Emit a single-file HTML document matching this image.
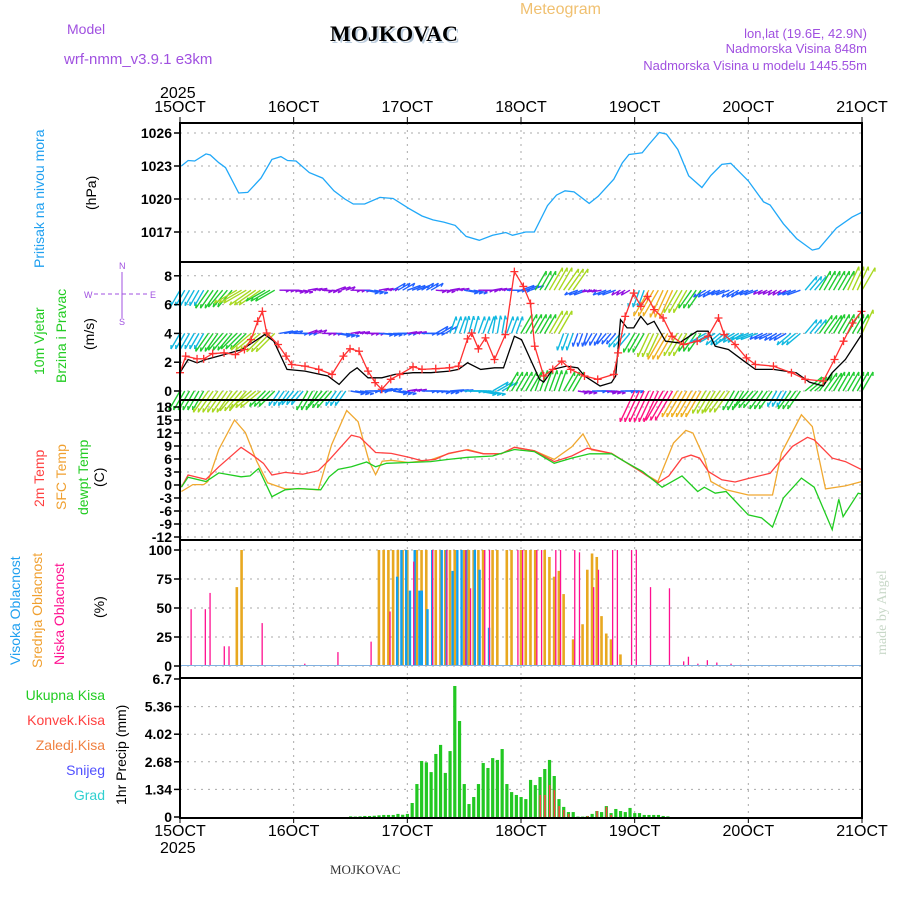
<!DOCTYPE html>
<html><head><meta charset="utf-8"><style>
body{margin:0;background:#fff}
svg{display:block;font-family:"Liberation Sans",sans-serif}
</style></head><body>
<svg id="c" width="900" height="900" viewBox="0 0 900 900">
<text x="520" y="14" font-size="16" fill="#f0c070">Meteogram</text>
<text x="332" y="43" font-size="22" font-weight="bold" font-family="Liberation Serif, serif" fill="#bcd">MOJKOVAC</text>
<text x="330" y="41" font-size="22" font-weight="bold" font-family="Liberation Serif, serif" fill="#000">MOJKOVAC</text>
<text x="67" y="34" font-size="14" fill="#a050e0">Model</text>
<text x="64" y="64" font-size="15" fill="#a050e0">wrf-nmm_v3.9.1 e3km</text>
<text x="867" y="38" font-size="13" fill="#a050e0" text-anchor="end">lon,lat (19.6E, 42.9N)</text>
<text x="867" y="53" font-size="13" fill="#a050e0" text-anchor="end">Nadmorska Visina 848m</text>
<text x="867" y="70" font-size="13" fill="#a050e0" text-anchor="end">Nadmorska Visina u modelu 1445.55m</text>
<text x="160" y="98" font-size="16" fill="#000">2025</text>
<text x="160" y="853" font-size="16" fill="#000">2025</text>
<text x="330" y="874" font-size="13" font-family="Liberation Serif, serif" fill="#333">MOJKOVAC</text>
<text transform="translate(886,655) rotate(-90)" font-size="14" font-family="Liberation Serif, serif" fill="#c8d8c8">made by Angel</text>
<text transform="translate(44,268) rotate(-90)" font-size="14" fill="#20a0f0">Pritisak na nivou mora</text>
<text transform="translate(96,210) rotate(-90)" font-size="14" fill="#000">(hPa)</text>
<text transform="translate(44,375) rotate(-90)" font-size="14" fill="#22cc22">10m Vjetar</text>
<text transform="translate(66,383) rotate(-90)" font-size="14" fill="#22cc22">Brzina i Pravac</text>
<text transform="translate(94,350) rotate(-90)" font-size="14" fill="#000">(m/s)</text>
<g fill="#a050e0" font-size="9">
<text x="119" y="269">N</text><text x="119" y="325">S</text><text x="84" y="298">W</text><text x="150" y="298">E</text>
<line x1="122" y1="272" x2="122" y2="318" stroke="#a050e0"/><line x1="94" y1="294" x2="148" y2="294" stroke="#a050e0" stroke-dasharray="4,3"/>
</g>
<text transform="translate(44,507) rotate(-90)" font-size="14" fill="#ff4040">2m Temp</text>
<text transform="translate(66,510) rotate(-90)" font-size="14" fill="#f0a030">SFC Temp</text>
<text transform="translate(88,515) rotate(-90)" font-size="14" fill="#22cc22">dewpt Temp</text>
<text transform="translate(104,487) rotate(-90)" font-size="14" fill="#000">(C)</text>
<text transform="translate(20,665) rotate(-90)" font-size="14" fill="#20a0f0">Visoka Oblacnost</text>
<text transform="translate(42,668) rotate(-90)" font-size="14" fill="#f0a030">Srednja Oblacnost</text>
<text transform="translate(64,665) rotate(-90)" font-size="14" fill="#ff1090">Niska Oblacnost</text>
<text transform="translate(104,618) rotate(-90)" font-size="14" fill="#000">(%)</text>
<g font-size="14" text-anchor="end">
<text x="105" y="700" fill="#22cc22">Ukupna  Kisa</text>
<text x="105" y="725" fill="#ff4040">Konvek.Kisa</text>
<text x="105" y="750" fill="#f08040">Zaledj.Kisa</text>
<text x="105" y="775" fill="#5050ff">Snijeg</text>
<text x="105" y="800" fill="#30d0d0">Grad</text>
</g>
<text transform="translate(126,805) rotate(-90)" font-size="14" fill="#000">1hr Precip (mm)</text>
<g id="grid"></g><g id="marks"></g><g id="axes"></g>
</svg>
<script>
const dayLabels=["15OCT","16OCT","17OCT","18OCT","19OCT","20OCT","21OCT"];
const presTicks=[1026,1023,1020,1017];
const windTicks=[0,2,4,6,8];
const tempTicks=[18,15,12,9,6,3,0,-3,-6,-9,-12];
const cloudTicks=[0,25,50,75,100];
const precTicks=[0,1.34,2.68,4.02,5.36,6.7];
const presHours=[0.3,1.7,3.1,5.5,6.4,8.2,9.6,12.4,14.3,17.1,19.4,21.3,22.7,24.5,27.3,30.1,32.5,34.8,36.6,39,42.2,45,48.3,51.1,53.4,55.7,58.1,60.4,63.2,66,68.8,70.2,73,74.8,77.6,79.5,81.3,83.2,86.4,88.3,91.6,93.4,94.8,97.6,99,101.2,102.7,105.1,107.4,110.2,112.1,114.4,116.3,120,123.2,124.6,127.4,130.2,133.5,134.9,138.6,141.9,144];
const presVals=[1023,1023.5,1023.45,1024.1,1024,1023.3,1022.85,1020.55,1020.6,1021.9,1023.6,1023.85,1023.5,1023.45,1022.4,1021.9,1020.75,1020,1019.55,1019.55,1020.15,1020.05,1019.15,1018.45,1018.1,1017.9,1017.6,1016.6,1016.25,1016.7,1016.95,1016.7,1017,1017,1019.4,1020.35,1020.75,1020.65,1019.6,1020.25,1021.8,1023.3,1024.05,1024.2,1024.95,1026.05,1025.9,1024.5,1022.1,1021.05,1022.15,1023.15,1023.25,1021.65,1019.75,1019.45,1017.75,1016.4,1015.35,1015.5,1017.35,1018.35,1018.8];
const gustHours=[0,1.2,3.6,5,6.9,9.3,11.7,13.6,15,16.4,17.4,18.3,20.7,22.4,23.6,26.4,29.3,32.1,34.5,35.9,37.8,39.7,41.2,42.6,44.5,46.4,49.2,51.1,54,56.9,58.8,60.7,61.6,63,64.5,66.4,68.7,70.6,72.5,74,74.9,76.8,78.7,80.6,82.5,85.4,88.2,91.6,92.5,94,95.8,97.3,98.7,100.1,102,103.9,106.3,109.2,111.5,113.7,114.9,117.2,119.6,121.5,125.3,129.1,132,135.8,138.2,140.1,142,143.9];
const gustVals=[1.27,2.42,2.23,2.23,2.6,2.65,2.53,2.88,3.57,4.84,5.53,4.03,3.23,2.42,1.84,1.73,1.5,1.15,2.42,2.93,2.76,1.38,0.58,0.12,0.81,1.15,1.68,1.5,1.55,1.61,1.73,3.62,4.03,2.93,3.69,2.19,3.92,8.29,7.26,6.08,3.11,1.04,1.5,2.07,1.5,1.04,0.81,1.15,2.65,5.18,6.8,5.88,6.57,5.65,5.07,3.8,3.23,3.46,3.8,5.07,3.92,3.23,2.3,1.84,1.73,1.27,0.81,0.69,2.19,3.46,4.72,5.53];
const speedHours=[0,1.7,3.6,5.5,9.3,13.1,17.9,19.8,22.6,26.4,31.2,33.6,35.9,37.4,39.7,42.6,45.4,49.2,53,56.9,58.8,60.7,63.5,66.4,68.3,70.6,72.1,74,75.9,76.8,78.7,81.6,84,85.4,88.7,91.1,92,93,94.4,95.8,97.3,98.7,100.1,102.5,105.4,109.2,111.5,113,115.8,119.1,121.5,125.3,130.1,132.9,135.8,137.7,140.5,144];
const speedVals=[1.27,2.19,1.96,2.19,2.53,2.88,3.92,3.46,1.5,1.38,1.04,0.46,1.27,1.61,0.92,0.92,1.15,1.27,1.27,1.38,1.5,1.96,1.5,1.61,1.61,3.8,3.57,2.19,0.81,0.62,1.5,1.73,1.61,1.04,0.35,0.58,1.04,4.95,4.38,4.38,5.18,4.61,4.84,3.46,3.34,4.15,4.15,3.11,2.88,2.07,1.5,1.5,1.27,0.62,0.35,1.27,2.19,3.96];
const windRowLevels=[7,4,0];
const windStepHours=3;
const windDirTop=[210,210,215,220,240,235,240,90,100,80,95,70,90,100,80,60,70,60,95,80,100,90,80,90,70,30,30,35,250,260,250,240,200,210,205,210,215,240,250,240,250,245,240,250,40,30,30,25,30];
const windColTop=[2,2,3,3,4,4,3,0,0,0,0,0,0,1,0,1,1,1,0,0,1,0,0,1,1,3,4,4,1,0,1,0,2,5,5,4,3,1,1,1,1,0,0,1,2,3,3,4,4];
const windDirMid=[210,210,215,220,225,230,225,80,90,70,90,100,80,90,95,90,80,90,60,20,15,20,10,20,30,30,30,200,200,210,220,220,210,205,210,210,215,240,230,240,250,245,240,230,40,35,30,30,25];
const windColMid=[2,2,3,3,3,4,4,1,1,0,0,1,0,0,1,1,0,1,1,2,2,2,2,2,3,3,4,2,1,1,1,2,3,4,5,4,3,2,2,2,2,1,1,2,2,3,3,3,4];
const windDirBot=[210,210,215,215,220,230,225,215,220,210,220,215,100,90,80,100,80,90,95,85,90,100,60,30,30,20,20,30,100,90,100,90,205,205,210,210,210,210,215,210,220,215,210,215,50,35,30,30,30];
const windColBot=[3,3,4,4,4,4,3,2,2,3,3,2,1,1,1,1,0,1,1,1,2,2,2,3,3,3,3,3,0,1,0,1,6,6,6,5,5,4,4,3,3,3,2,3,3,3,3,3,3];
const t2Hours=[0.3,1.7,5.5,8.2,12.9,15.2,17.6,19.4,22.2,25.9,29.2,31.5,36.2,38,41.3,44.6,48.3,51.1,53.9,56.7,60.4,64.1,67.8,70.6,74.8,79,82.7,86,91.1,93.9,96.7,100.9,103.2,106,107.9,109.7,111.6,114.4,117.2,120,124.6,129.3,132.5,133.9,137.7,140.5,144];
const t2Vals=[-0.5,2.3,1.3,4.2,8.7,7,5,2.3,2.9,2.5,3.3,5.8,11.5,11,7.5,7.3,6.4,5.6,5.9,7.3,8.1,7.2,7.2,8.7,7.9,5.4,6.7,8.5,7.3,5.4,3.5,0.5,2.1,6.2,6.9,6.2,3.1,1.2,0.7,1.5,2.7,8.9,11,10.4,6.2,5.4,3.5];
const sfcHours=[0.3,2.7,5,5.9,8.2,11.5,13.8,16.2,18.5,22.2,25.9,29.2,32,35.2,37.6,39.9,41.3,42.7,44.6,48.3,52.9,56.7,60.8,64.1,67.8,70.6,74.8,79,82.7,85.1,86.9,91.1,93.9,96.7,100.9,104.2,106.8,108.3,110.7,112.1,115.3,120,122.3,125.1,127,131.2,133.5,136.3,140.5,144];
const sfcVals=[-1.5,0.1,0.1,0.8,8.2,15,12.1,5.5,0.5,-0.9,-0.9,-1.1,9.3,17.2,14.6,5.5,2.4,5.5,5.7,5.2,5.8,7.2,8.2,7.2,7.2,8.7,7.9,5.9,8.8,11.8,8.1,7.3,5.4,3.5,0.8,9.7,12.6,12,6.2,0.8,-1.1,-2.3,-2.3,-2.3,7.4,16.2,13.5,-0.9,-0.2,0.8];
const dewHours=[0.3,1.7,5.5,8.2,12.9,14.8,16.6,19.4,22.2,25,29.7,31.5,33.4,36.2,39.4,41.3,43.6,48.3,52.9,56.7,60.8,66,70.6,74.8,79,82.7,86.5,91.1,93.9,97.7,101.8,106,109.3,110.7,113,115.3,120,122.8,125.1,127.4,131.2,133.9,137.7,139.1,140,143.2,144];
const dewVals=[-0.5,1.8,0.8,2.8,1.9,2.1,3.8,-2.7,-1.1,-0.8,-1.1,1.9,3.6,4.2,5.3,4.2,5,5.2,5.4,5.9,6.4,6.7,8.2,7.7,5,6.2,7.2,7.2,5.4,3.1,-0.5,2.1,-1.5,-0.5,-1.9,-1.5,-6.9,-7.6,-9.7,-3,1.6,-0.5,-10.3,-3.3,-7.3,-1.9,-2.1];
const lowCloudHours=[2,5,6,9,10,17,26,33,40,44,49,53,56,60,61,64,65,71,72,75,76,79,80,83,84,87,88,91,92,95,96,99,103,106,107,109,111,113,116,118];
const lowCloudVals=[49,49,63,17,17,37,2,12,21,47,90,100,100,100,67,100,100,100,100,100,100,100,100,100,98,68,83,100,100,100,100,68,67,4,8,2,5,3,2,1];
const midCloudHours=[12,13,42,43,44,45,46,47,48,50,51,52,54,55,56,57,58,60,61,62,63,64,66,67,69,70,72,73,74,75,77,78,79,80,81,83,85,86,87,88,89,90,91,93];
const midCloudVals=[68,100,100,100,100,100,100,100,100,100,100,100,100,100,100,100,100,100,100,100,100,100,100,100,100,100,100,100,100,100,100,94,77,82,62,23,36,83,97,94,43,28,23,10];
const highCloudHours=[45.6,46.5,47.5,48.3,49.3,50.3,50.8,52,53,55,56,57.3,58.3,59.2,60.2,62,63,65];
const highCloudVals=[77,100,100,65,100,65,65,49,100,100,100,82,100,100,100,100,83,33];
const precipStart=36;
const precipTotal=[0.03,0.02,0.03,0.05,0.05,0.06,0.08,0.1,0.1,0.1,0.15,0.11,0.15,0.68,1.6,2.72,2.65,2.18,3.06,3.5,2.14,3.2,6.36,4.66,1.6,0.63,0.97,1.6,2.62,2.38,2.86,2.77,3.3,1.6,1.21,1.07,0.97,0.87,1.8,1.55,1.94,2.33,2.77,1.99,0.87,0.49,0.24,0.24,0.02,0.02,0.05,0.15,0.29,0.24,0.53,0.19,0.39,0.29,0.24,0.44,0.19,0.19,0.1,0.1,0.1,0.1,0.05,0.03];
const precipConvHours=[76,77,78,79,80,81,82,86,88,90,91];
const precipConvVals=[1.07,1.07,1.55,1.3,0.53,0.34,0.15,0.05,0.29,0.49,0.1];

const X0=180,X1=862,HOURS=144;
const xs=h=>X0+(Math.min(h,HOURS))*(X1-X0)/HOURS;
const yP=p=>133+(1026-p)*11;
const yW=v=>391-v*14.4;
const yT=t=>485-t*4.333;
const yC=c=>666-c*1.16;
const yR=r=>817-r*20.6;
const NS="http://www.w3.org/2000/svg";
const grid=document.getElementById('grid'),marks=document.getElementById('marks'),axes=document.getElementById('axes');
function mk(tag,attrs,parent){const e=document.createElementNS(NS,tag);for(const k in attrs)e.setAttribute(k,attrs[k]);parent.appendChild(e);return e;}
const panels=[[123,262,presTicks,yP,"pressure"],[262,400,windTicks,yW,"wind"],[400,540,tempTicks,yT,"temperature"],[540,678,cloudTicks,yC,"cloud"],[678,818,precTicks,yR,"precip"]];
panels.forEach(([top,bot,ticks,ys,nm])=>{
  for(let d=1;d<6;d++){const l=mk('line',{x1:xs(d*24),x2:xs(d*24),y1:top,y2:bot,stroke:'#aaa','stroke-dasharray':'2,5'},grid);
  
  }
  ticks.forEach(t=>{const y=ys(t);
    if(y>top+2&&y<bot-2){const g=mk('line',{x1:X0,x2:X1,y1:y,y2:y,stroke:'#aaa','stroke-dasharray':'2,5'},grid);
    
    }
    const tk=mk('line',{x1:174,x2:X0,y1:y,y2:y,stroke:'#000','stroke-width':1.5},axes);
    
    
    const tx=mk('text',{x:172,y:y+5,'font-size':14,'font-weight':'bold','text-anchor':'end',fill:'#000'},axes);
    tx.textContent=String(t);
    
    
  });
  const r=mk('rect',{x:X0,y:top,width:X1-X0,height:bot-top,fill:'none',stroke:'#000','stroke-width':2},axes);
  
  
});
dayLabels.forEach((d,i)=>{[[112,'top'],[836,'bottom']].forEach(([y,w])=>{
  const t=mk('text',{x:xs(i*24),y:y,'font-size':16,'text-anchor':'middle',fill:'#000'},axes);t.textContent=d;
  
  
  const tk=mk('line',{x1:xs(i*24),x2:xs(i*24),y1:y===112?117:818,y2:y===112?123:823,stroke:'#000'},axes);
  
  
});});
function line(hs,vs,ys,col,name,w){const pts=hs.map((h,i)=>xs(h).toFixed(1)+','+ys(vs[i]).toFixed(1)).join(' ');
  const p=mk('polyline',{points:pts,fill:'none',stroke:col,'stroke-width':w||1.3},marks);
  
  return p;}
line(presHours,presVals,yP,'#20a8f8','pressure-line');
const windColors=['#9010e0','#2060ff','#10b8e0','#20cc30','#a8d820','#f0b020','#ff1080'];
const rows=[[windDirTop,windColTop],[windDirMid,windColMid],[windDirBot,windColBot]];
rows.forEach(([dirs,cols],ri)=>{const by=yW(windRowLevels[ri]);
  dirs.forEach((d,i)=>{for(let k=0;k<3;k++){const h=i*windStepHours+k;if(h>HOURS)continue;
    const x=xs(h),L=10+4*cols[i],a=d*Math.PI/180;
    const x2=x+L*Math.sin(a),y2=by-L*Math.cos(a);
    const ln=mk('line',{x1:x,y1:by,x2:x2,y2:y2,stroke:windColors[cols[i]],'stroke-width':1.4},marks);
    
    
    const hx=x2-4*Math.sin(a-0.5),hy=y2+4*Math.cos(a-0.5);
    const hd=mk('line',{x1:x2,y1:y2,x2:hx,y2:hy,stroke:windColors[cols[i]],'stroke-width':1.4},marks);
    
    }});});
line(speedHours,speedVals,yW,'#000','wind-speed-line');
line(gustHours,gustVals,yW,'#ff3030','wind-gust-line');
gustHours.forEach((h,i)=>{const x=xs(h),y=yW(gustVals[i]);
  const m=mk('path',{d:`M${x-4},${y}H${x+4}M${x},${y-4}V${y+4}`,stroke:'#ff3030','stroke-width':1.3},marks);
  
  });
line(sfcHours,sfcVals,yT,'#f0a830','sfc-temp-line');
line(t2Hours,t2Vals,yT,'#ff4040','temp-2m-line');
line(dewHours,dewVals,yT,'#20cc20','dewpoint-line');
function bars(hs,vs,col,w,dx,name){hs.forEach((h,i)=>{const x=xs(h)+dx,y=yC(vs[i]);
  const b=mk('rect',{x:x,y:y,width:w,height:yC(0)-y,fill:col},marks);
  
  });}
bars(midCloudHours,midCloudVals,'#e8a820',2.6,-1.3,'mid-cloud-bar');
bars(highCloudHours,highCloudVals,'#10a0f0',2.4,0,'high-cloud-bar');
bars(lowCloudHours,lowCloudVals,'#ff1090',1.3,1,'low-cloud-bar');
const cb=mk('line',{x1:X0,x2:X1,y1:yC(0)-0.5,y2:yC(0)-0.5,stroke:'#80b0e0','stroke-width':1},marks);


precipTotal.forEach((v,i)=>{const h=precipStart+i,x=xs(h)-1.5,y=yR(v);
  const b=mk('rect',{x:x,y:y,width:3.2,height:yR(0)-y,fill:'#22c822'},marks);
  
  });
precipConvHours.forEach((h,i)=>{const x=xs(h)-0.5,y=yR(precipConvVals[i]);
  const b=mk('rect',{x:x,y:y,width:1.5,height:yR(0)-y,fill:'#ff4040'},marks);
  
  });
</script>
</body></html>
